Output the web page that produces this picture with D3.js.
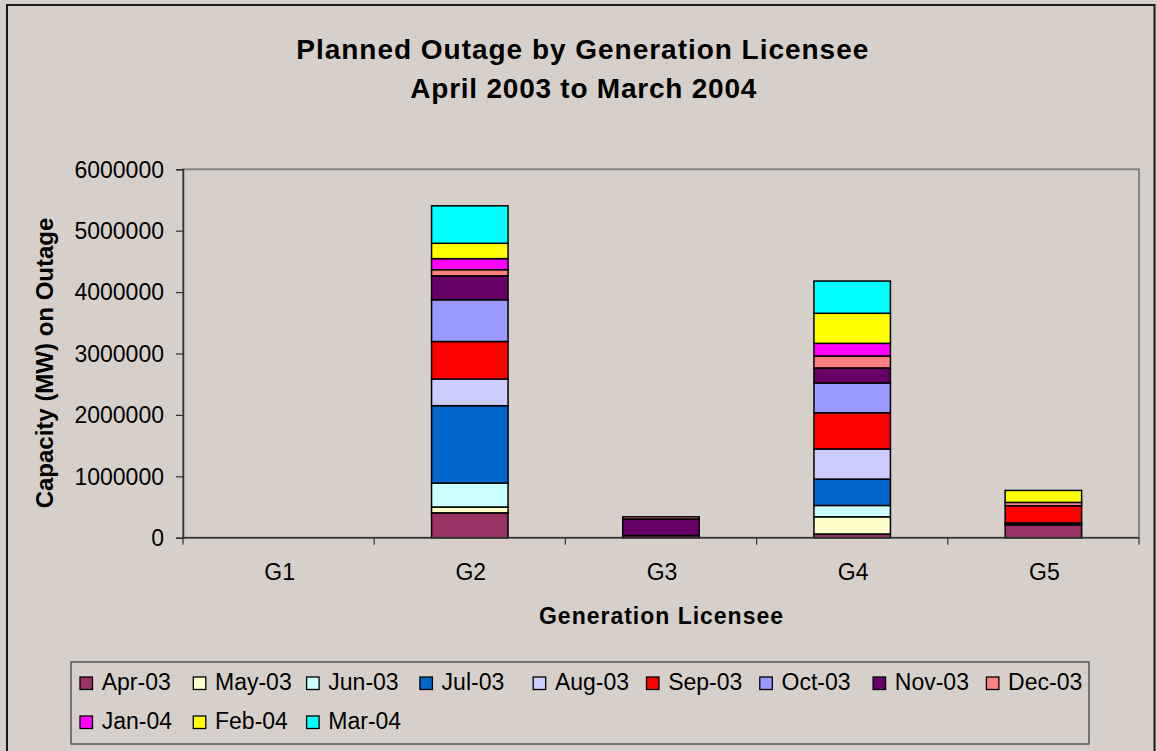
<!DOCTYPE html>
<html>
<head>
<meta charset="utf-8">
<script src="https://cdn.jsdelivr.net/npm/d3@7"></script>
<style>
  html, body { margin: 0; padding: 0; background: #d7d0ca; }
  svg { display: block; font-family: "Liberation Sans", Arial, sans-serif; }
</style>
</head>
<body>
<svg id="chart" width="1157" height="751"></svg>
<script>
// ---- data ----
const categories = ["G1", "G2", "G3", "G4", "G5"];
const months = ["Apr-03", "May-03", "Jun-03", "Jul-03", "Aug-03", "Sep-03",
                "Oct-03", "Nov-03", "Dec-03", "Jan-04", "Feb-04", "Mar-04"];
const monthColors = ["#993366", "#FFFFCC", "#CCFFFF", "#0066CC", "#CCCCFF", "#FF0000",
                     "#9999FF", "#660066", "#FF8080", "#FF00FF", "#FFFF00", "#00FFFF"];
// values per licensee, in month order Apr-03 .. Mar-04
const g1Values = [0, 0, 0, 0, 0, 0, 0, 0, 0, 0, 0, 0];
const g2Values = [405000, 95000, 390000, 1260000, 435000, 610000, 680000, 390000, 100000, 180000, 250000, 610000];
const g3Values = [35000, 0, 0, 0, 0, 0, 0, 270000, 35000, 0, 0, 0];
const g4Values = [60000, 280000, 185000, 430000, 490000, 590000, 485000, 245000, 195000, 205000, 490000, 525000];
const g5Values = [210000, 0, 0, 30000, 0, 280000, 0, 0, 55000, 0, 195000, 0];
const yTicks = [0, 1000000, 2000000, 3000000, 4000000, 5000000, 6000000];
const titleLines = ["Planned Outage by Generation Licensee", "April 2003 to March 2004"];
const yTitle = "Capacity (MW) on Outage";
const xTitle = "Generation Licensee";

// ---- build table ----
const seriesByCat = [g1Values, g2Values, g3Values, g4Values, g5Values];
const table = categories.map((c, i) => {
  const row = { cat: c };
  months.forEach((m, j) => row[m] = seriesByCat[i][j]);
  return row;
});

const svg = d3.select("#chart");
const bg = "#d7d0ca";

// background
svg.append("rect").attr("x", 0).attr("y", 0).attr("width", 1157).attr("height", 751).attr("fill", bg);
// outer border
svg.append("rect").attr("x", 7).attr("y", 5).attr("width", 1147.5).attr("height", 760)
  .attr("fill", "none").attr("stroke", "#1a1a1a").attr("stroke-width", 2);

const plot = { left: 183, right: 1139, top: 169.3, bottom: 537.7 };

const x = d3.scaleBand().domain(categories).range([plot.left, plot.right]).padding(0);
const y = d3.scaleLinear().domain([0, 6000000]).range([plot.bottom, plot.top]);

// plot area border (top & right gray)
svg.append("rect").attr("x", plot.left).attr("y", plot.top)
  .attr("width", plot.right - plot.left).attr("height", plot.bottom - plot.top)
  .attr("fill", "none").attr("stroke", "#858585").attr("stroke-width", 2);

// bars
const stack = d3.stack().keys(months);
const layers = stack(table);
const barW = x.bandwidth() * 0.4;
const g = svg.append("g");
layers.forEach((layer, li) => {
  g.selectAll(null).data(layer.filter(d => d[1] - d[0] > 0)).enter().append("rect")
    .attr("x", d => x(d.data.cat) + (x.bandwidth() - barW) / 2)
    .attr("y", d => y(d[1]))
    .attr("width", barW)
    .attr("height", d => y(d[0]) - y(d[1]))
    .attr("fill", monthColors[li])
    .attr("stroke", "#000")
    .attr("stroke-width", 1.5);
});

// y axis
const yAxis = d3.axisLeft(y).tickValues(yTicks).tickSize(7).tickPadding(12).tickFormat(d3.format("d"));
const ya = svg.append("g").attr("transform", `translate(${plot.left},0)`).call(yAxis);
ya.select(".domain").attr("stroke", "#333").attr("stroke-width", 1.5);
ya.selectAll(".tick line").attr("stroke", "#333").attr("stroke-width", 1.2);
ya.selectAll(".tick text").attr("font-size", 23).attr("fill", "#000")
  .attr("font-family", "Liberation Sans, Arial, sans-serif").attr("dy", "0.34em");

// x axis line
svg.append("line").attr("x1", plot.left).attr("x2", plot.right)
  .attr("y1", plot.bottom).attr("y2", plot.bottom).attr("stroke", "#333").attr("stroke-width", 1.5);
// x ticks at band boundaries
const bounds = categories.map(c => x(c)).concat([plot.right]);
svg.selectAll(null).data(bounds).enter().append("line")
  .attr("x1", d => d).attr("x2", d => d)
  .attr("y1", plot.bottom).attr("y2", plot.bottom + 7)
  .attr("stroke", "#333").attr("stroke-width", 1.2);
svg.selectAll(null).data(categories).enter().append("text")
  .attr("x", d => x(d) + x.bandwidth() / 2 + 1)
  .attr("y", 580)
  .attr("text-anchor", "middle")
  .attr("font-size", 23)
  .text(d => d);

// titles
svg.append("text").attr("x", 582.3).attr("y", 59).attr("text-anchor", "middle")
  .attr("font-size", 28).attr("font-weight", "bold")
  .attr("textLength", 572).attr("lengthAdjust", "spacing")
  .text(titleLines[0]);
svg.append("text").attr("x", 583.3).attr("y", 98).attr("text-anchor", "middle")
  .attr("font-size", 28).attr("font-weight", "bold")
  .attr("textLength", 346).attr("lengthAdjust", "spacing")
  .text(titleLines[1]);

// axis titles
svg.append("text").attr("transform", "translate(53,363) rotate(-90)")
  .attr("text-anchor", "middle").attr("font-size", 24).attr("font-weight", "bold")
  .text(yTitle);
svg.append("text").attr("x", 661).attr("y", 624).attr("text-anchor", "middle")
  .attr("font-size", 23).attr("font-weight", "bold")
  .attr("textLength", 244).attr("lengthAdjust", "spacing")
  .text(xTitle);

// legend
svg.append("rect").attr("x", 71).attr("y", 662).attr("width", 1018).attr("height", 82)
  .attr("fill", "none").attr("stroke", "#555").attr("stroke-width", 1.5);
const perRow = 9;
const leg = svg.append("g");
months.forEach((m, i) => {
  const col = i % perRow, row = Math.floor(i / perRow);
  const lx = 80 + col * 113.3;
  const ly = row === 0 ? 677 : 716;
  leg.append("rect").attr("x", lx).attr("y", ly).attr("width", 12.5).attr("height", 12.5)
    .attr("fill", monthColors[i]).attr("stroke", "#000").attr("stroke-width", 1.3);
  leg.append("text").attr("x", lx + 21.7).attr("y", ly + 12.5)
    .attr("font-size", 23).text(m);
});
</script>
</body>
</html>
